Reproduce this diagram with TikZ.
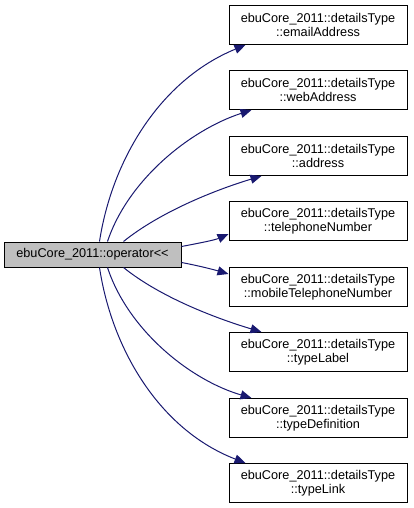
\documentclass[tikz,border=0pt]{standalone}
\usepackage{fontspec}
\setmainfont{Liberation Sans}
\usetikzlibrary{arrows.meta,calc}
\definecolor{edgeblue}{HTML}{191970}
\definecolor{nodegray}{HTML}{BFBFBF}
\tikzset{
  member/.style={draw=black, line width=1pt, fill=white, minimum width=178pt, minimum height=39pt, inner sep=0pt, align=center, font=\fontsize{12.7}{14.2}\selectfont},
  caller/.style={draw=black, line width=1pt, fill=nodegray, minimum width=177pt, minimum height=25pt, inner sep=0pt, font=\fontsize{12.7}{14.2}\selectfont},
  call/.style={draw=edgeblue, line width=1pt, -{Triangle[length=11pt,width=9pt]}}
}
\begin{document}
\begin{tikzpicture}[x=1pt,y=-1pt]
\useasboundingbox (0,0) rectangle (413,508);
\node[caller] (L) at (92.5,254.5) {ebuCore\_2011::operator<{}<};
\node[member] (A) at (318,25) {ebuCore\_2011::detailsType\\::emailAddress};
\node[member] (B) at (318,90) {ebuCore\_2011::detailsType\\::webAddress};
\node[member] (C) at (318,156) {ebuCore\_2011::detailsType\\::address};
\node[member] (D) at (318,221) {ebuCore\_2011::detailsType\\::telephoneNumber};
\node[member] (E) at (318,287) {ebuCore\_2011::detailsType\\::mobileTelephoneNumber};
\node[member] (F) at (318,352) {ebuCore\_2011::detailsType\\::typeLabel};
\node[member] (G) at (318,418) {ebuCore\_2011::detailsType\\::typeDefinition};
\node[member] (H) at (318,483) {ebuCore\_2011::detailsType\\::typeLink};
\draw[call] ($(L.north west)+(96,0)$) .. controls (112,160) and (160,80) .. ($(A.south west)+(17,0)$);
\draw[call] ($(L.north west)+(104,0)$) .. controls (128,180) and (190,130) .. ($(B.south west)+(23,0)$);
\draw[call] ($(L.north west)+(120,0)$) .. controls (160,212) and (215,190) .. ($(C.south west)+(33,0)$);
\draw[call] ($(L.north east)+(0,5)$) .. controls (200,243) and (215,240) .. ($(D.south west)+(0,-7)$);
\draw[call] ($(L.south east)+(0,-5)$) .. controls (200,266) and (215,270) .. ($(E.north west)+(0,7)$);
\draw[call] ($(L.south west)+(120,0)$) .. controls (160,297) and (215,318) .. ($(F.north west)+(33,0)$);
\draw[call] ($(L.south west)+(104,0)$) .. controls (128,330) and (190,380) .. ($(G.north west)+(23,0)$);
\draw[call] ($(L.south west)+(96,0)$) .. controls (112,350) and (160,430) .. ($(H.north west)+(17,0)$);
\end{tikzpicture}
\end{document}
